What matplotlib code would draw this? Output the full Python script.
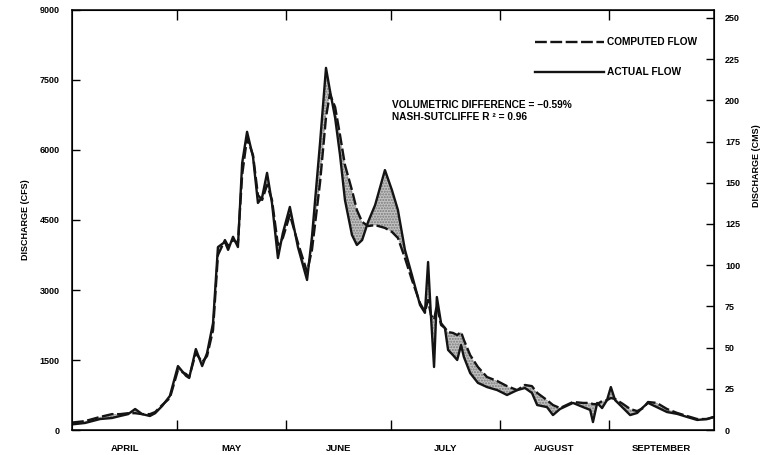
import numpy as np
import matplotlib.pyplot as plt
from matplotlib.ticker import FixedLocator, NullFormatter, FixedFormatter

plt.rcParams['font.family'] = ['Liberation Sans', 'DejaVu Sans']
plt.rcParams['font.weight'] = 'bold'
plt.rcParams['hatch.color'] = '#808080'

# days since April 1
days = [0, 3.7, 8.0, 11.4, 13.7, 16.0, 18.0, 20.0, 22.2, 23.7,
        25.7, 27.9, 30.2, 32.5, 33.4, 35.3, 37.1, 38.5, 40.2, 41.6,
        43.6, 44.5, 45.9, 47.3, 48.5, 49.9, 51.6, 53.0, 54.2, 55.6,
        57.0, 58.7, 60.1, 62.1, 64.4, 67.0, 68.4, 70.7, 72.4, 73.5,
        75.0, 76.4, 77.8, 79.8, 81.2, 82.7, 84.4, 86.4, 89.2, 91.2,
        92.9, 94.9, 96.9, 99.2, 100.6, 101.5, 102.3, 103.2, 104.0, 105.2,
        106.3, 107.2, 108.6, 109.8, 110.9, 111.7, 113.5, 115.7, 118.3, 121.2,
        124.0, 126.9, 129.1, 131.1, 132.6, 135.4, 137.1, 139.1, 142.8, 145.7,
        147.7, 148.5, 149.7, 151.1, 152.5, 153.6, 154.8, 157.1, 159.1, 161.1,
        162.8, 164.2, 166.7, 169.6, 172.5, 175.3, 178.2, 181.0, 183.0]

# discharge, cfs
actual = [120, 150, 235, 257, 300, 340, 450, 340, 300, 360,
          515, 730, 1370, 1160, 1115, 1735, 1370, 1650, 2290, 3920,
          4030, 3860, 4140, 3920, 5720, 6390, 5850, 4865, 4990, 5510,
          4865, 3685, 4220, 4780, 3920, 3215, 4140, 6150, 7760, 7285,
          6690, 5890, 4930, 4180, 3965, 4070, 4460, 4820, 5570, 5140,
          4715, 3860, 3320, 2680, 2510, 3600, 2465, 1350, 2850, 2290,
          2185, 1715, 1605, 1500, 1820, 1565, 1220, 1010, 920, 855,
          750, 855, 900, 795, 535, 490, 320, 450, 580, 490,
          430, 170, 580, 470, 640, 920, 640, 470, 320, 365,
          490, 580, 490, 385, 345, 280, 215, 235, 280]

computed = [160, 190, 280, 340, 340, 360, 360, 340, 340, 385,
            535, 685, 1285, 1200, 1135, 1650, 1455, 1585, 2140, 3750,
            4070, 3940, 4070, 4010, 5465, 6260, 5890, 5035, 4930, 5250,
            4930, 3965, 4115, 4610, 4010, 3385, 3860, 5300, 6700, 7200,
            6920, 6320, 5680, 5140, 4715, 4460, 4370, 4390, 4330, 4245,
            4115, 3685, 3215, 2720, 2530, 2785, 2465, 2360, 2680, 2250,
            2185, 2100, 2080, 2035, 2100, 1930, 1605, 1350, 1135, 1050,
            940, 855, 965, 940, 795, 640, 535, 470, 600, 580,
            580, 555, 555, 620, 640, 685, 665, 555, 450, 405,
            470, 600, 580, 450, 365, 300, 235, 235, 280]

months = ['APRIL', 'MAY', 'JUNE', 'JULY', 'AUGUST', 'SEPTEMBER']
month_len = [30, 31, 30, 31, 31, 30]

CFS_PER_CMS = 35.315
fs = 6.5
fs_note = 7.3

edges = np.concatenate([[0], np.cumsum(month_len)])
mids = (edges[:-1] + edges[1:]) / 2

fig = plt.figure(figsize=(7.76, 4.55), dpi=100)
ax = fig.add_axes([72/776, 25/455, 642/776, 420/455])

ax.fill_between(days, actual, computed, facecolor='#c2c2c2', hatch='......',
                edgecolor='#7a7a7a', linewidth=0)
ax.plot(days, computed, color='#141414', lw=1.7, ls=(0, (5, 1.5)))
ax.plot(days, actual, color='#141414', lw=1.7)

ax.set_xlim(0, edges[-1])
ax.set_ylim(0, 9000)
ax.set_yticks(np.arange(0, 9001, 1500))

ax.xaxis.set_major_locator(FixedLocator(edges[1:-1]))
ax.xaxis.set_major_formatter(NullFormatter())
ax.xaxis.set_minor_locator(FixedLocator(mids))
ax.xaxis.set_minor_formatter(FixedFormatter(months))
ax.tick_params(axis='x', which='major', direction='in', length=7, width=1,
               top=True, bottom=True)
ax.tick_params(axis='x', which='minor', length=0, pad=10, labelsize=6.8)
ax.tick_params(axis='y', direction='in', length=6, width=1, pad=9,
               labelsize=fs, right=False)
for sp in ax.spines.values():
    sp.set_linewidth(1.1)

ax.set_ylabel('DISCHARGE (CFS)', fontsize=fs, fontweight='bold')
ax.yaxis.set_label_coords(-0.066, 0.5)

ax2 = ax.twinx()
ax2.set_ylim(0, 9000 / CFS_PER_CMS)
ax2.set_yticks(np.arange(0, 251, 25))
ax2.tick_params(axis='y', direction='in', length=6, width=1, pad=8,
                labelsize=fs)
ax2.set_ylabel('DISCHARGE (CMS)', fontsize=fs, fontweight='bold', rotation=90)
ax2.yaxis.set_label_coords(1.059, 0.63)

# legend drawn by hand in the upper right
ax.plot([0.721, 0.829], [0.924, 0.924], transform=ax.transAxes,
        color='#141414', lw=1.7, ls=(0, (5, 1.5)))
ax.plot([0.721, 0.829], [0.852, 0.852], transform=ax.transAxes,
        color='#141414', lw=1.7)
ax.text(0.833, 0.924, 'COMPUTED FLOW', transform=ax.transAxes,
        fontsize=fs_note, va='center')
ax.text(0.833, 0.852, 'ACTUAL FLOW', transform=ax.transAxes,
        fontsize=fs_note, va='center')

ax.text(0.498, 0.774, 'VOLUMETRIC DIFFERENCE = \u22120.59%',
        transform=ax.transAxes, fontsize=fs_note, va='center')
ax.text(0.498, 0.745, 'NASH-SUTCLIFFE R \u00b2 = 0.96',
        transform=ax.transAxes, fontsize=fs_note, va='center')

fig.savefig('out.png', dpi=100)
